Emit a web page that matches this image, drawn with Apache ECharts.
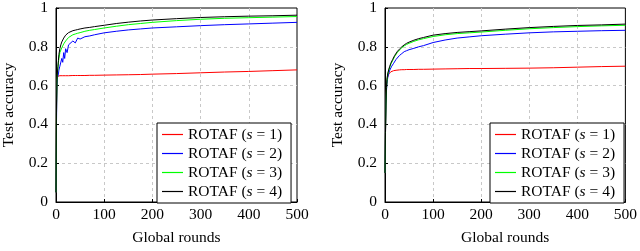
<!DOCTYPE html>
<html><head><meta charset="utf-8">
<script src="https://cdn.jsdelivr.net/npm/echarts@6/dist/echarts.min.js"></script>
<style>html,body{margin:0;padding:0;background:#fff}#c{width:640px;height:251px}</style>
</head><body><div id="c"></div>
<script>
const rounds = [0,1,2,3,4,5,6,8,10,12,14,16,18,20,23,26,30,35,40,45,50,60,70,80,100,125,150,175,200,250,300,350,400,450,500];
const seriesNames = ['ROTAF (s = 1)','ROTAF (s = 2)','ROTAF (s = 3)','ROTAF (s = 4)'];
const xTicks = [0,100,200,300,400,500];
const yTicks = [0,0.2,0.4,0.6,0.8,1];
// Left panel
const leftS1 = [0.05,0.45,0.62,0.648,0.650,0.651,0.651,0.651,0.651,0.651,0.651,0.651,0.651,0.651,0.651,0.651,0.651,0.652,0.652,0.652,0.652,0.652,0.653,0.653,0.654,0.655,0.656,0.657,0.659,0.662,0.666,0.670,0.673,0.677,0.681];
const leftS2 = [0.05,0.40,0.60,0.64,0.65,0.66,0.68,0.70,0.69,0.74,0.72,0.77,0.74,0.79,0.77,0.81,0.80,0.83,0.82,0.845,0.84,0.852,0.856,0.862,0.872,0.880,0.887,0.892,0.897,0.903,0.909,0.914,0.918,0.922,0.926];
const leftS3 = [0.05,0.45,0.62,0.66,0.69,0.72,0.74,0.77,0.78,0.795,0.805,0.815,0.82,0.83,0.84,0.848,0.855,0.862,0.866,0.870,0.873,0.880,0.885,0.889,0.897,0.906,0.914,0.920,0.926,0.935,0.942,0.947,0.950,0.953,0.956];
const leftS4 = [0.05,0.5,0.63,0.67,0.70,0.73,0.76,0.79,0.81,0.825,0.835,0.845,0.852,0.860,0.867,0.873,0.878,0.883,0.886,0.889,0.892,0.897,0.900,0.904,0.911,0.920,0.927,0.933,0.938,0.945,0.951,0.955,0.958,0.960,0.963];
// Right panel
const rightS1 = [0.15,0.35,0.50,0.58,0.62,0.64,0.65,0.66,0.667,0.671,0.674,0.676,0.677,0.678,0.679,0.680,0.681,0.682,0.682,0.683,0.683,0.683,0.684,0.684,0.685,0.686,0.687,0.688,0.688,0.689,0.690,0.692,0.695,0.698,0.700];
const rightS2 = [0.15,0.35,0.50,0.57,0.61,0.63,0.645,0.665,0.68,0.69,0.70,0.71,0.715,0.725,0.735,0.745,0.755,0.765,0.775,0.78,0.785,0.792,0.80,0.806,0.822,0.835,0.845,0.851,0.857,0.865,0.872,0.877,0.880,0.883,0.885];
const rightS3 = [0.15,0.35,0.50,0.58,0.62,0.645,0.66,0.68,0.695,0.71,0.72,0.73,0.74,0.75,0.76,0.772,0.783,0.795,0.805,0.812,0.818,0.828,0.836,0.842,0.853,0.862,0.868,0.872,0.876,0.885,0.893,0.899,0.904,0.908,0.911];
const rightS4 = [0.15,0.36,0.51,0.59,0.63,0.65,0.665,0.685,0.70,0.715,0.725,0.735,0.745,0.755,0.765,0.777,0.788,0.80,0.81,0.818,0.824,0.834,0.842,0.848,0.86,0.868,0.874,0.878,0.882,0.891,0.899,0.905,0.910,0.913,0.917];

const colors = ['#ff0000','#0000ff','#00ff00','#000000'];
const FONT = 'Liberation Serif';
const FS = 15.5;
const chart = echarts.init(document.getElementById('c'), null, {renderer:'canvas'});
const pair = v => rounds.map((r,i)=>[r,v[i]]);
function xAx(gi){return {type:'value',gridIndex:gi,min:0,max:500,interval:100,
  name:'Global rounds',nameLocation:'middle',nameGap:28,nameTextStyle:{fontFamily:FONT,fontSize:FS,color:'#000'},
  axisLine:{show:true,onZero:false,lineStyle:{color:'#000',width:1}},
  axisTick:{show:true,inside:true,length:3,lineStyle:{color:'#000'}},
  axisLabel:{fontFamily:FONT,fontSize:FS,color:'#000',margin:5,formatter:v=>xTicks.includes(v)?String(v):''},
  splitLine:{show:true,showMinLine:false,showMaxLine:false,lineStyle:{color:'#c8c8c8',type:[3,3],width:1}}};}
function yAx(gi){return {type:'value',gridIndex:gi,min:0,max:1,interval:0.2,
  name:'Test accuracy',nameLocation:'middle',nameGap:39,nameTextStyle:{fontFamily:FONT,fontSize:FS,color:'#000'},
  axisLine:{show:true,onZero:false,lineStyle:{color:'#000',width:1}},
  axisTick:{show:true,inside:true,length:3,lineStyle:{color:'#000'}},
  axisLabel:{fontFamily:FONT,fontSize:FS,color:'#000',margin:8,formatter:v=>{const t=yTicks.find(k=>Math.abs(k-v)<1e-9);return t===undefined?'':String(t);}},
  splitLine:{show:true,showMinLine:false,showMaxLine:false,lineStyle:{color:'#c8c8c8',type:[3,3],width:1}}};}
const leftData=[leftS1,leftS2,leftS3,leftS4], rightData=[rightS1,rightS2,rightS3,rightS4];
const series=[];
[leftData,rightData].forEach((set,gi)=>{set.forEach((d,k)=>{series.push({type:'line',name:seriesNames[k],xAxisIndex:gi,yAxisIndex:gi,data:pair(d),showSymbol:false,symbol:'none',lineStyle:{color:colors[k],width:1},itemStyle:{color:colors[k]},animation:false,z:2+k});});});
function leg(left){return {show:true,left:left,top:123,orient:'vertical',icon:'rect',itemWidth:21,itemHeight:1.2,itemGap:2,
  backgroundColor:'#fff',borderColor:'#000',borderWidth:1,borderRadius:0,padding:[3,9,3,5],
  itemStyle:{borderWidth:0},
  formatter:function(n){var m=n.match(/s = (\d)/);return 'ROTAF ({i|s} = '+(m?m[1]:'')+')';},
  textStyle:{fontFamily:FONT,fontSize:FS,color:'#000',lineHeight:17,rich:{i:{fontFamily:FONT,fontStyle:'italic',fontSize:FS,color:'#000',lineHeight:17}}},
  data:seriesNames.slice()};}
chart.setOption({
  animation:false,
  backgroundColor:'#fff',
  grid:[{left:53,top:6,width:244,height:202,show:true,borderColor:'#000',borderWidth:1,backgroundColor:'transparent'},
        {left:385,top:6,width:244,height:202,show:true,borderColor:'#000',borderWidth:1,backgroundColor:'transparent'}],
  xAxis:[xAx(0),xAx(1)],
  yAxis:[yAx(0),yAx(1)],
  legend:[leg(157),leg(490)],
  series:series
});
</script></body></html>
